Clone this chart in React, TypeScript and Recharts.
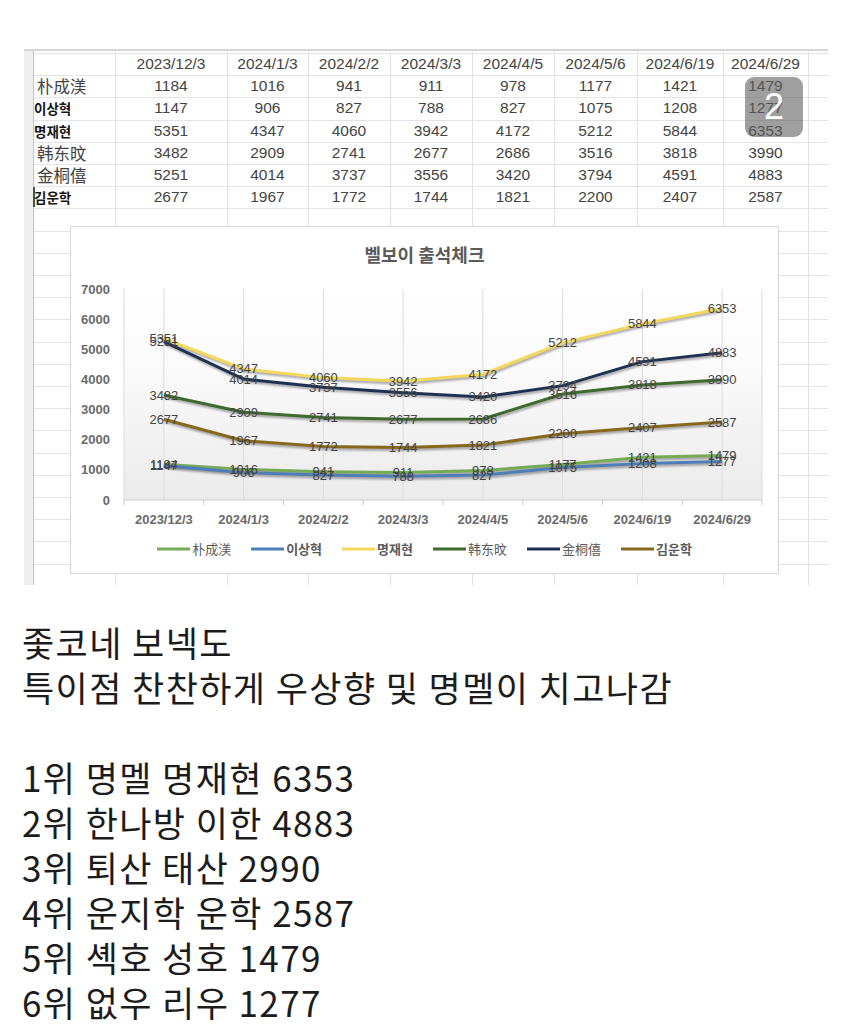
import React from 'react';
import { LineChart, Line, XAxis, YAxis, CartesianGrid, Legend } from 'recharts';

// ---------- data ----------
const dates = ['2023/12/3', '2024/1/3', '2024/2/2', '2024/3/3', '2024/4/5', '2024/5/6', '2024/6/19', '2024/6/29'];
const names = ['朴成渼', '이상혁', '명재현', '韩东旼', '金桐僖', '김운학'];
const parkValues = [1184, 1016, 941, 911, 978, 1177, 1421, 1479];
const leeValues = [1147, 906, 827, 788, 827, 1075, 1208, 1277];
const myungValues = [5351, 4347, 4060, 3942, 4172, 5212, 5844, 6353];
const hanValues = [3482, 2909, 2741, 2677, 2686, 3516, 3818, 3990];
const kimValues = [5251, 4014, 3737, 3556, 3420, 3794, 4591, 4883];
const woonhakValues = [2677, 1967, 1772, 1744, 1821, 2200, 2407, 2587];
const yTicks = [0, 1000, 2000, 3000, 4000, 5000, 6000, 7000];
const chartTitle = '벨보이 출석체크';
const badgeText = '2';
const textLines = [
  '좇코네 보넥도',
  '특이점 찬찬하게 우상향 및 명멜이 치고나감',
  '',
  '1위 명멜 명재현 6353',
  '2위 한나방 이한 4883',
  '3위 퇴산 태산 2990',
  '4위 운지학 운학 2587',
  '5위 셱호 성호 1479',
  '6위 없우 리우 1277',
];

const seriesValues = [parkValues, leeValues, myungValues, hanValues, kimValues, woonhakValues];
const colors = ['#76aa55', '#4d7fb6', '#f4d85c', '#3e6a2e', '#1f3152', '#87691e'];

const data = dates.map((d, i) => {
  const row: any = { date: d };
  names.forEach((n, j) => {
    row[n] = seriesValues[j][i];
  });
  return row;
});

// ---------- layout constants ----------
const CHART_W = 707;
const CHART_H = 346;
const M_LEFT = 8;
const Y_W = 45;
const M_RIGHT = 16;
const PLOT_W = CHART_W - M_LEFT - Y_W - M_RIGHT;
const BAND = PLOT_W / dates.length;

const colEdges = [115, 227, 308, 390, 472, 554, 637, 723, 808];
const ROW_TOP = 53;
const ROW_H = 22.2;

const isHangul = (s: string) => /[\uac00-\ud7a3]/.test(s);
const chartFont = '"Liberation Sans", Arial, sans-serif';

const XTick = (props: any) => {
  const { x, y, payload, index } = props;
  return (
    <g>
      <line x1={x - BAND / 2} x2={x - BAND / 2} y1={y} y2={y + 5} stroke="#c9c9c9" />
      {index === dates.length - 1 && (
        <line x1={x + BAND / 2} x2={x + BAND / 2} y1={y} y2={y + 5} stroke="#c9c9c9" />
      )}
      <text
        x={x}
        y={y + 19}
        textAnchor="middle"
        dominantBaseline="central"
        fontFamily={chartFont}
        fontSize={13}
        fontWeight="bold"
        fill="#6a6a6a"
      >
        {payload.value}
      </text>
    </g>
  );
};

const renderLabel = (p: any) => (
  <text
    key={`l-${p.index}-${p.value}`}
    x={p.x}
    y={p.y}
    textAnchor="middle"
    dominantBaseline="central"
    fontFamily={chartFont}
    fontSize={13}
    fill="#454545"
  >
    {p.value}
  </text>
);

const LegendContent = (props: any) => {
  const items = [...(props.payload || [])].sort(
    (a: any, b: any) => names.indexOf(a.value) - names.indexOf(b.value)
  );
  return (
    <div style={{ display: 'flex', justifyContent: 'center', gap: 20, alignItems: 'center' }}>
      {items.map((item: any) => (
        <div key={item.value} style={{ display: 'flex', alignItems: 'center' }}>
          <svg width={33} height={6}>
            <line x1={0} x2={33} y1={3} y2={3} stroke={item.color} strokeWidth={3} />
          </svg>
          <span
            style={{
              marginLeft: 2,
              fontSize: 13,
              color: '#5a5a5a',
              fontWeight: isHangul(item.value) ? 'bold' : 'normal',
              fontFamily: isHangul(item.value) ? '"Noto Sans CJK KR"' : '"Noto Sans CJK SC"',
              lineHeight: '18px',
            }}
          >
            {item.value}
          </span>
        </div>
      ))}
    </div>
  );
};

export default function App() {
  const hLines: number[] = [];
  for (let k = 0; k < 24; k++) hLines.push(ROW_TOP + ROW_H * k);

  return (
    <div
      style={{
        position: 'absolute',
        left: 0,
        top: 0,
        width: 850,
        height: 1027,
        background: '#ffffff',
        overflow: 'hidden',
      }}
    >
      <style>{`.shadowed .recharts-line-curve { filter: drop-shadow(1px 2px 1.2px rgba(0,0,0,0.35)); }`}</style>

      {/* spreadsheet background */}
      <div style={{ position: 'absolute', left: 24, top: 50, width: 9, height: 535, background: '#efefef', borderRight: '1px solid #c4c4c4' }} />
      <div style={{ position: 'absolute', left: 24, top: 49, width: 804, height: 2, background: '#d6d6d6' }} />
      {hLines.map((y, k) => (
        <div key={`h${k}`} style={{ position: 'absolute', left: 34, top: y, width: 794, height: 1, background: '#e4e4e4' }} />
      ))}
      {colEdges.map((x, k) => (
        <div key={`v${k}`} style={{ position: 'absolute', left: x, top: 50, width: 1, height: 535, background: '#e2e2e2' }} />
      ))}
      <div style={{ position: 'absolute', left: 33, top: ROW_TOP + ROW_H * 6 + 1, width: 2, height: ROW_H - 2, background: '#3d5a3d' }} />

      {/* table header */}
      {dates.map((d, i) => (
        <div
          key={`hd${i}`}
          style={{
            position: 'absolute',
            left: colEdges[i],
            top: ROW_TOP,
            width: colEdges[i + 1] - colEdges[i],
            height: ROW_H,
            lineHeight: `${ROW_H}px`,
            textAlign: 'center',
            fontFamily: chartFont,
            fontSize: 15.5,
            color: '#444',
            whiteSpace: 'nowrap',
          }}
        >
          {d}
        </div>
      ))}
      {/* table rows */}
      {names.map((n, j) => (
        <React.Fragment key={`r${j}`}>
          <div
            style={{
              position: 'absolute',
              left: isHangul(n) ? 34 : 37,
              top: ROW_TOP + ROW_H * (j + 1),
              height: ROW_H,
              lineHeight: `${ROW_H}px`,
              fontFamily: isHangul(n) ? '"Noto Sans CJK KR"' : '"Noto Sans CJK SC"',
              fontSize: isHangul(n) ? 13.5 : 16.5,
              fontWeight: isHangul(n) ? 'bold' : 'normal',
              color: isHangul(n) ? '#151515' : '#444',
              whiteSpace: 'nowrap',
            }}
          >
            {n}
          </div>
          {seriesValues[j].map((v, i) => (
            <div
              key={`c${j}-${i}`}
              style={{
                position: 'absolute',
                left: colEdges[i],
                top: ROW_TOP + ROW_H * (j + 1),
                width: colEdges[i + 1] - colEdges[i],
                height: ROW_H,
                lineHeight: `${ROW_H}px`,
                textAlign: 'center',
                fontFamily: chartFont,
                fontSize: 15.5,
                color: '#444',
              }}
            >
              {v}
            </div>
          ))}
        </React.Fragment>
      ))}

      {/* overlay badge */}
      <div
        style={{
          position: 'absolute',
          left: 745,
          top: 77,
          width: 58,
          height: 60,
          borderRadius: 9,
          background: 'rgba(95,95,95,0.6)',
          color: '#fff',
          fontFamily: chartFont,
          fontSize: 36,
          lineHeight: '60px',
          textAlign: 'center',
        }}
      >
        {badgeText}
      </div>

      {/* chart box */}
      <div
        className="shadowed"
        style={{
          position: 'absolute',
          left: 70,
          top: 226,
          width: CHART_W + 2,
          height: CHART_H + 2,
          boxSizing: 'border-box',
          border: '1px solid #d6d6d6',
          background: '#fff',
        }}
      >
        <LineChart
          width={CHART_W}
          height={CHART_H}
          data={data}
          margin={{ top: 62, right: M_RIGHT, left: M_LEFT, bottom: 43 }}
        >
          <defs>
            <linearGradient id="plotBg" x1="0" y1="0" x2="0" y2="1">
              <stop offset="0" stopColor="#ffffff" />
              <stop offset="0.35" stopColor="#fbfbfb" />
              <stop offset="1" stopColor="#ebebeb" />
            </linearGradient>
          </defs>
          <CartesianGrid horizontal={false} stroke="#dcdcdc" fill="url(#plotBg)" />
          <XAxis
            dataKey="date"
            interval={0}
            padding={{ left: BAND / 2, right: BAND / 2 }}
            tickLine={false}
            tickSize={0}
            tickMargin={0}
            height={30}
            axisLine={{ stroke: '#cfcfcf' }}
            tick={<XTick />}
          />
          <YAxis
            width={Y_W}
            domain={[0, 7000]}
            ticks={yTicks}
            interval={0}
            axisLine={false}
            tickLine={false}
            tickSize={0}
            tickMargin={14}
            tick={{ fontFamily: chartFont, fontSize: 13, fontWeight: 'bold', fill: '#6a6a6a' }}
          />
          <Legend
            verticalAlign="middle"
            align="center"
            layout="horizontal"
            wrapperStyle={{ top: 313, left: 0, width: CHART_W }}
            content={<LegendContent />}
          />
          {names.map((n, j) => (
            <Line
              key={n}
              type="linear"
              dataKey={n}
              name={n}
              stroke={colors[j]}
              strokeWidth={3}
              dot={false}
              activeDot={false}
              isAnimationActive={false}
              label={renderLabel}
            />
          ))}
        </LineChart>
        <div
          style={{
            position: 'absolute',
            left: 0,
            top: 15,
            width: CHART_W,
            textAlign: 'center',
            fontFamily: '"Noto Sans CJK KR"',
            fontWeight: 'bold',
            fontSize: 18,
            lineHeight: '24px',
            color: '#5a5a5a',
          }}
        >
          {chartTitle}
        </div>
      </div>

      {/* caption text */}
      <div
        style={{
          position: 'absolute',
          left: 22,
          top: 619,
          fontFamily: '"Noto Sans CJK KR"',
          fontSize: 35,
          lineHeight: '45px',
          letterSpacing: 1.4,
          color: '#1c1c1c',
        }}
      >
        {textLines.map((t, i) => (
          <div key={`t${i}`} style={{ height: 45, whiteSpace: 'pre' }}>
            {t}
          </div>
        ))}
      </div>
    </div>
  );
}
